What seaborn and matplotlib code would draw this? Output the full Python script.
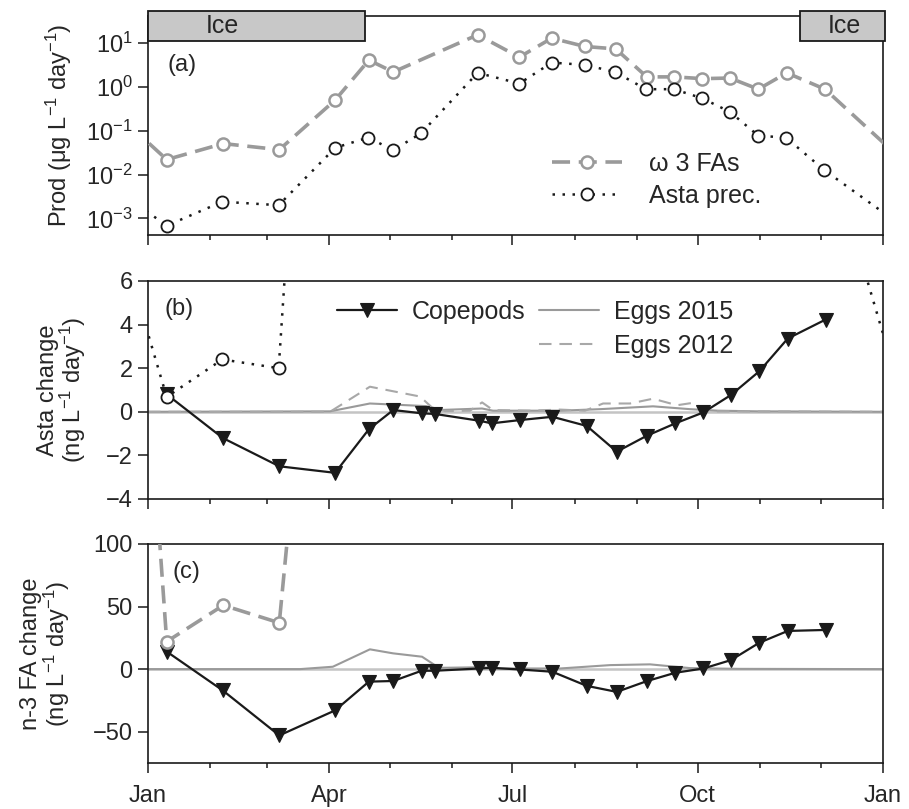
import numpy as np
import pandas as pd
import matplotlib
matplotlib.use('Agg')
import matplotlib.pyplot as plt
import matplotlib.transforms as mtransforms
from matplotlib.patches import Rectangle
from matplotlib.ticker import FixedLocator, NullLocator, FixedFormatter
import seaborn as sns

# ---------------- data ----------------
YEAR = 365
month_tick_days = [0, 90, 181, 273, 365]
month_tick_labels = ['Jan', 'Apr', 'Jul', 'Oct', 'Jan']
minor_month_days = [31, 59, 120, 151, 212, 243, 304, 334]

ice_periods = [(0, 108), (324, 366)]
ice_label_days = [37, 346]

# production (ug L-1 day-1)
fa_days = [9.3, 37.4, 65.2, 92.9, 109.7, 121.8, 163.7, 184.4, 200.5, 217.0,
           232.3, 247.7, 261.4, 275.3, 289.0, 303.1, 317.2, 336.2]
fa_prod = [0.022, 0.051, 0.037, 0.50, 4.1, 2.2, 15.5, 4.8, 13.0, 8.4,
           7.4, 1.7, 1.7, 1.55, 1.6, 0.89, 2.1, 0.89]

asta_days = [9.3, 36.9, 64.9, 93.0, 109.4, 121.8, 135.6, 163.7, 184.4, 200.5,
             217.0, 231.9, 247.3, 261.2, 275.3, 289.0, 303.1, 316.8, 335.8]
asta_prod = [0.00068, 0.0024, 0.0020, 0.041, 0.070, 0.036, 0.088, 2.1, 1.2, 3.6,
             3.2, 2.2, 0.89, 0.89, 0.55, 0.27, 0.077, 0.070, 0.0127]

# copepods (ng L-1 day-1)
cop_days = [9.3, 37.1, 65.2, 92.9, 109.7, 121.8, 135.9, 142.5, 164.5, 170.7,
            184.7, 200.8, 217.9, 232.8, 247.7, 261.9, 275.8, 289.5, 303.6, 317.7, 336.5]
cop_asta = [0.8, -1.2, -2.5, -2.8, -0.8, 0.08, -0.07, -0.1, -0.41, -0.53,
            -0.38, -0.23, -0.65, -1.83, -1.1, -0.53, -0.03, 0.77, 1.86, 3.36, 4.23]
cop_fa = [14, -17, -53, -33, -10, -9.5, -1.3, -1.3, 0.5, 1.0,
          -0.3, -2.1, -13.4, -18.2, -9.6, -2.9, 0.5, 7.2, 21.1, 30.5, 31.3]

# eggs
egg12_days = [0, 90.4, 110.2, 135.1, 141.0, 147.5, 159.9, 165.9, 171.3, 189.7,
              204.6, 217.0, 226.0, 239.4, 250.8, 262.7, 270.6, 278.1, 365]
egg12_asta = [0, 0.0, 1.15, 0.70, 0.20, 0.03, 0.05, 0.43, 0.08, 0.05,
              0.10, 0.05, 0.38, 0.38, 0.60, 0.30, 0.41, 0.02, 0]

egg15_days = [0, 90.4, 110.2, 138.1, 144.5, 165.9, 171.3, 204.6, 224.5, 250.8,
              269.2, 283.1, 303.0, 365]
egg15_asta = [0, 0.02, 0.38, 0.26, 0.08, 0.15, 0.05, 0.05, 0.12, 0.25,
              0.12, 0.05, 0.02, 0]

egg15_fa_days = [0, 75.5, 91.8, 110.2, 121.7, 136.1, 144.5, 165.9, 175.8, 204.6,
                 229.5, 249.3, 269.2, 293.5, 365]
egg15_fa = [0, 0, 1.9, 15.8, 12.6, 9.9, 1.0, 1.5, 0.5, 0.5,
            3.2, 3.8, 0.8, 0.2, 0]

# ---------------- style ----------------
sns.set_style('ticks')
plt.rcParams['font.family'] = ['Liberation Sans', 'DejaVu Sans']
plt.rcParams['mathtext.fontset'] = 'custom'
plt.rcParams['mathtext.rm'] = 'Liberation Sans'
plt.rcParams['mathtext.it'] = 'Liberation Sans:italic'
plt.rcParams['mathtext.bf'] = 'Liberation Sans:bold'
plt.rcParams['mathtext.default'] = 'regular'
plt.rcParams['axes.unicode_minus'] = True

FS = 17
GREY = '#9a9a9a'
DARK = '#1a1a1a'


def wrap(days, vals):
    d = [days[-1] - YEAR] + list(days) + [days[0] + YEAR]
    v = [vals[-1]] + list(vals) + [vals[0]]
    return d, v


def draw(ax, days, vals, **kw):
    df = pd.DataFrame({'day': days, 'val': vals})
    sns.lineplot(data=df, x='day', y='val', ax=ax, estimator=None,
                 errorbar=None, sort=False, **kw)
    return ax.lines[-1]


fig = plt.figure(figsize=(9.09, 8.09), dpi=100)
L, W = 0.1628, 0.8086
ax_a = fig.add_axes([L, 0.7095, W, 0.2707])
ax_b = fig.add_axes([L, 0.3832, W, 0.2695])
ax_c = fig.add_axes([L, 0.0569, W, 0.2707])

fa_style = dict(color=GREY, lw=2.6, linestyle=(0, (5.0, 2.4)), marker='o',
                markersize=8.7, markerfacecolor='white', markeredgecolor=GREY,
                markeredgewidth=1.8)
asta_style = dict(color=DARK, lw=1.8, linestyle=(0, (1, 3)), marker='o',
                  markersize=8.7, markerfacecolor='white', markeredgecolor=DARK,
                  markeredgewidth=1.3)
cop_style = dict(color=DARK, lw=1.6, linestyle='-', marker='v', markersize=10,
                 markerfacecolor=DARK, markeredgecolor=DARK, markeredgewidth=0.8)

# ---- panel a ----
ax_a.set_yscale('log')
d, v = wrap(fa_days, fa_prod)
h_fa = draw(ax_a, d, v, zorder=3, **fa_style)
d, v = wrap(asta_days, asta_prod)
h_asta = draw(ax_a, d, v, zorder=3, **asta_style)
ax_a.set_ylim(10 ** -3.38, 10 ** 1.62)
ax_a.yaxis.set_major_locator(FixedLocator([1e-3, 1e-2, 1e-1, 1e0, 1e1]))
ax_a.yaxis.set_minor_locator(NullLocator())
ax_a.set_ylabel('Prod (μg L$^{-1}$ day$^{-1}$)', fontsize=FS)
ax_a.yaxis.set_label_coords(-0.100, 0.5)
ax_a.legend([h_fa, h_asta], ['ω 3 FAs', 'Asta prec.'], loc='upper left',
            bbox_to_anchor=(0.549, 0.378), borderaxespad=0, borderpad=0,
            frameon=False, fontsize=18, handlelength=2.8, handletextpad=1.1,
            labelspacing=0.32)
ax_a.text(0.026, 0.776, '(a)', transform=ax_a.transAxes, fontsize=FS, va='center')

trans = mtransforms.blended_transform_factory(ax_a.transData, ax_a.transAxes)
for (d0, d1), lx in zip(ice_periods, ice_label_days):
    ax_a.add_patch(Rectangle((d0, 0.888), d1 - d0, 0.135, transform=trans,
                             facecolor='#c8c8c8', edgecolor=DARK, lw=1.3,
                             clip_on=False, zorder=6))
    ax_a.text(lx, 0.955, 'Ice', transform=trans, ha='center', va='center',
              fontsize=18, zorder=7)

# ---- panel b ----
ax_b.axhline(0, color='#c4c4c4', lw=1.8, zorder=1)
h_e15 = draw(ax_b, egg15_days, egg15_asta, color=GREY, lw=1.5, zorder=2)
h_e12 = draw(ax_b, egg12_days, egg12_asta, color='#a8a8a8', lw=1.5,
             linestyle=(0, (6.0, 3.8)), zorder=2)
h_cop = draw(ax_b, cop_days, cop_asta, zorder=3, **cop_style)
d, v = wrap(asta_days, [a * 1000 for a in asta_prod])
draw(ax_b, d, v, zorder=4, **asta_style)
ax_b.set_ylim(-4, 6)
ax_b.yaxis.set_major_locator(FixedLocator([-4, -2, 0, 2, 4, 6]))
ax_b.set_ylabel('Asta change\n(ng L$^{-1}$ day$^{-1}$)', fontsize=FS, linespacing=0.95)
ax_b.yaxis.set_label_coords(-0.082, 0.5)
blank = plt.Line2D([], [], color='none')
ax_b.legend([h_cop, blank, h_e15, h_e12], ['Copepods', '', 'Eggs 2015', 'Eggs 2012'],
            ncol=2, loc='upper left', bbox_to_anchor=(0.257, 0.912),
            borderaxespad=0, borderpad=0, frameon=False, fontsize=18,
            handlelength=2.4, handletextpad=0.6, columnspacing=0.55,
            labelspacing=0.38)
ax_b.text(0.023, 0.872, '(b)', transform=ax_b.transAxes, fontsize=FS, va='center')

# ---- panel c ----
ax_c.axhline(0, color='#c4c4c4', lw=1.8, zorder=1)
draw(ax_c, egg15_fa_days, egg15_fa, color=GREY, lw=1.5, zorder=2)
draw(ax_c, cop_days, cop_fa, zorder=3, **cop_style)
d, v = wrap(fa_days, [f * 1000 for f in fa_prod])
draw(ax_c, d, v, zorder=4, **fa_style)
ax_c.set_ylim(-75, 100)
ax_c.yaxis.set_major_locator(FixedLocator([-50, 0, 50, 100]))
ax_c.set_ylabel('n-3 FA change\n(ng L$^{-1}$ day$^{-1}$)', fontsize=FS, linespacing=0.95)
ax_c.yaxis.set_label_coords(-0.104, 0.5)
ax_c.text(0.034, 0.872, '(c)', transform=ax_c.transAxes, fontsize=FS, va='center')

# ---- common axes formatting ----
for ax in (ax_a, ax_b, ax_c):
    ax.set_xlim(0, YEAR)
    ax.xaxis.set_major_locator(FixedLocator(month_tick_days))
    ax.xaxis.set_minor_locator(FixedLocator(minor_month_days))
    ax.set_xlabel('')
    for s in ax.spines.values():
        s.set_visible(True)
        s.set_color(DARK)
        s.set_linewidth(1.2)
    ax.tick_params(axis='both', which='major', direction='out', length=7,
                   width=1.1, color=DARK, labelsize=FS, pad=4)
    ax.tick_params(axis='x', which='minor', direction='out', length=3.5,
                   width=1.1, color=DARK)
    ax.tick_params(axis='y', which='minor', length=0)
    if ax is ax_c:
        ax.xaxis.set_major_formatter(FixedFormatter(month_tick_labels))
        ax.tick_params(axis='x', which='major', pad=9)
    else:
        ax.tick_params(axis='x', which='major', labelbottom=False)

fig.savefig('out.png', dpi=100)
